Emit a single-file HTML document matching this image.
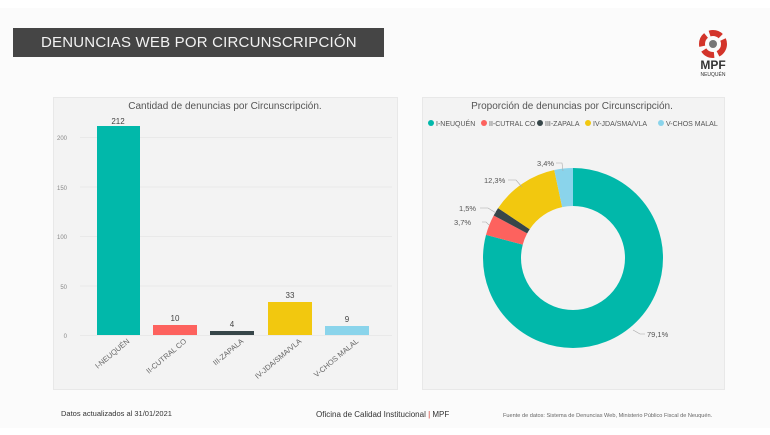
<!DOCTYPE html>
<html><head><meta charset="utf-8"><style>
body{margin:0;width:770px;height:435px;background:#fff;font-family:"Liberation Sans",sans-serif;position:relative;overflow:hidden}
.bg{position:absolute;left:0;top:8px;width:770px;height:420px;background:#fbfbfb}
.hdr{position:absolute;left:13px;top:28px;width:371px;height:29px;background:#454545;color:#f2f2f2;font-size:15px;line-height:29px;padding-left:28px;box-sizing:border-box;letter-spacing:0.2px}
.panel{position:absolute;top:97px;height:291px;background:#f3f3f3;border:1px solid #e8e8e8}
</style></head><body>
<div class="bg"></div>
<div class="hdr">DENUNCIAS WEB POR CIRCUNSCRIPCIÓN</div>
<svg style="position:absolute;left:695px;top:30px" width="40" height="56">
<circle cx="18" cy="14" r="11" fill="none" stroke="#d3342a" stroke-width="6" stroke-dasharray="12 4"/>
<circle cx="18" cy="14" r="4" fill="#777"/>
<text x="18" y="39" font-size="12" font-weight="bold" text-anchor="middle" fill="#333" font-family="Liberation Sans">MPF</text>
<text x="18" y="46" font-size="5" text-anchor="middle" fill="#333" font-family="Liberation Sans">NEUQUÉN</text>
</svg>
<div class="panel" style="left:53px;width:343px"></div>
<div class="panel" style="left:422px;width:301px"></div>
<svg style="position:absolute;left:0;top:0" width="770" height="435" font-family="Liberation Sans">
<text x="225" y="109" font-size="10" fill="#555" text-anchor="middle">Cantidad de denuncias por Circunscripción.</text>
<g stroke="#e9e9e9" stroke-width="1">
<line x1="80" x2="392" y1="137.5" y2="137.5"/><line x1="80" x2="392" y1="187" y2="187"/><line x1="80" x2="392" y1="236.5" y2="236.5"/><line x1="80" x2="392" y1="286" y2="286"/><line x1="80" x2="392" y1="335.5" y2="335.5"/></g>
<g font-size="6" fill="#888" text-anchor="end"><text x="67" y="140">200</text><text x="67" y="190">150</text><text x="67" y="239">100</text><text x="67" y="289">50</text><text x="67" y="338">0</text></g>
<rect x="97" y="126" width="43" height="209" fill="#01b8aa"/>
<rect x="153" y="325" width="44" height="10" fill="#fd625e"/>
<rect x="210" y="331" width="44" height="4" fill="#374649"/>
<rect x="268" y="302" width="44" height="33" fill="#f2c80f"/>
<rect x="325" y="326" width="44" height="9" fill="#8ad4eb"/>
<g font-size="8" fill="#444" text-anchor="middle"><text x="118" y="124">212</text><text x="175" y="321">10</text><text x="232" y="327">4</text><text x="290" y="298">33</text><text x="347" y="322">9</text></g>
<g font-size="7.5" fill="#666" text-anchor="end">
<text transform="translate(130,342) rotate(-40)">I-NEUQUÉN</text>
<text transform="translate(187,342) rotate(-40)">II-CUTRAL CO</text>
<text transform="translate(244,342) rotate(-40)">III-ZAPALA</text>
<text transform="translate(302,342) rotate(-40)">IV-JDA/SMA/VLA</text>
<text transform="translate(359,342) rotate(-40)">V-CHOS MALAL</text></g>
<text x="572" y="109" font-size="10" fill="#555" text-anchor="middle">Proporción de denuncias por Circunscripción.</text>
<g font-size="7" fill="#555">
<circle cx="431" cy="123" r="3" fill="#01b8aa"/><text x="436" y="126">I-NEUQUÉN</text>
<circle cx="484" cy="123" r="3" fill="#fd625e"/><text x="489" y="126">II-CUTRAL CO</text>
<circle cx="540" cy="123" r="3" fill="#374649"/><text x="545" y="126">III-ZAPALA</text>
<circle cx="588" cy="123" r="3" fill="#f2c80f"/><text x="593" y="126">IV-JDA/SMA/VLA</text>
<circle cx="661" cy="123" r="3" fill="#8ad4eb"/><text x="666" y="126">V-CHOS MALAL</text></g>
<g transform="translate(573,258) rotate(-90)" fill="none" stroke-width="38">
<circle r="71" stroke="#01b8aa" stroke-dasharray="352.9 600"/>
<circle r="71" stroke="#fd625e" stroke-dasharray="0 352.9 16.5 600"/>
<circle r="71" stroke="#374649" stroke-dasharray="0 369.4 6.7 600"/>
<circle r="71" stroke="#f2c80f" stroke-dasharray="0 376.1 54.9 600"/>
<circle r="71" stroke="#8ad4eb" stroke-dasharray="0 431 15.1 600"/>
</g>
<g font-size="7.5" fill="#555" stroke="#aaa" stroke-width="0.6">
<polyline points="556,163 562,163 563,171" fill="none"/><text x="537" y="166" stroke="none">3,4%</text>
<polyline points="508,180 516,180 522,187" fill="none"/><text x="484" y="183" stroke="none">12,3%</text>
<polyline points="480,208 488,208 496,213" fill="none"/><text x="459" y="211" stroke="none">1,5%</text>
<polyline points="482,222 486,222 489,225" fill="none"/><text x="454" y="225" stroke="none">3,7%</text>
<polyline points="633,330 640,334 645,334" fill="none"/><text x="647" y="337" stroke="none">79,1%</text>
</g>
<text x="61" y="416" font-size="7.5" fill="#333">Datos actualizados al 31/01/2021</text>
<text x="316" y="417" font-size="8" fill="#333">Oficina de Calidad Institucional <tspan fill="#d3342a">|</tspan> MPF</text>
<text x="503" y="417" font-size="5.6" fill="#666">Fuente de datos:  Sistema de Denuncias Web, Ministerio Público Fiscal de Neuquén.</text>
</svg>
</body></html>
